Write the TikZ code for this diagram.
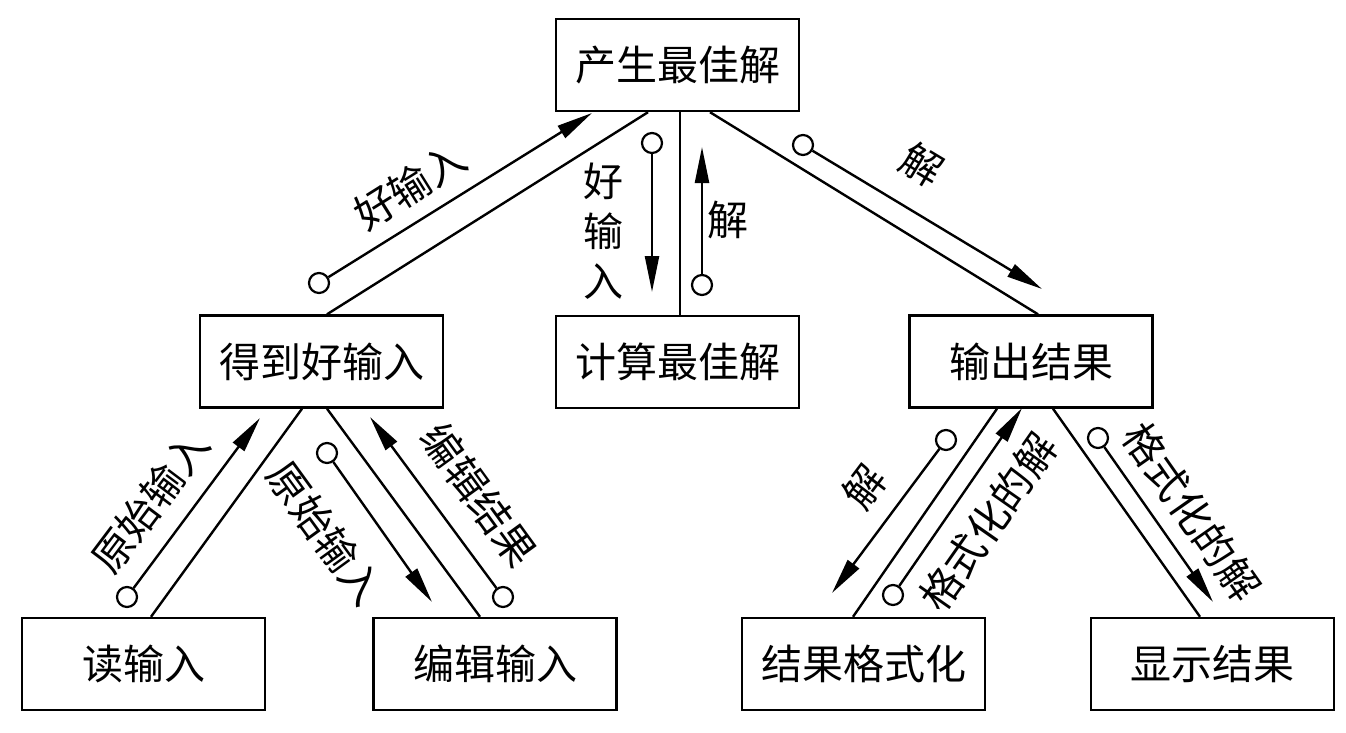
\documentclass[tikz,border=0pt]{standalone}
\usepackage{fontspec}
\newfontfamily\cjk{Noto Sans CJK SC}
\usetikzlibrary{arrows.meta}
\begin{document}
\begin{tikzpicture}[x=1pt,y=-1pt,
  box/.style={draw, line width=2.4pt, minimum width=243pt, minimum height=92pt, inner sep=0pt, font=\cjk\fontsize{41}{41}\selectfont},
  link/.style={line width=2.4pt},
  flow/.style={line width=2.4pt, -{Triangle[length=36pt,width=14pt]}},
  dot/.style={circle, draw, line width=2.2pt, minimum size=20pt, inner sep=0pt},
  lab/.style={font=\cjk\fontsize{41}{41}\selectfont, inner sep=0pt}]
\useasboundingbox (0,0) rectangle (1346,733);
\fill[white] (0,0) rectangle (1346,733);
% boxes
\node[box] (top)  at (677.5,65)  {产生最佳解};
\node[box] (get)  at (321.5,361.5) {得到好输入};
\node[box] (comp) at (677.5,362) {计算最佳解};
\node[box] (out)  at (1031,361.5) {输出结果};
\node[box] (read) at (143.5,664) {读输入};
\node[box] (edit) at (495,664) {编辑输入};
\node[box] (fmt)  at (863.5,664) {结果格式化};
\node[box] (disp) at (1212.5,664) {显示结果};
% structure lines
\draw[link] ([xshift=-29.5pt]top.south) -- ([xshift=5.5pt]get.north);
\draw[link] ([xshift=2.5pt]top.south) -- ([xshift=2.5pt]comp.north);
\draw[link] ([xshift=32.5pt]top.south) -- ([xshift=7pt]out.north);
\draw[link] ([xshift=-19.5pt]get.south) -- ([xshift=7.5pt]read.north);
\draw[link] ([xshift=5.5pt]get.south) -- ([xshift=-15pt]edit.north);
\draw[link] ([xshift=-34pt]out.south) -- ([xshift=-10.5pt]fmt.north);
\draw[link] ([xshift=22pt]out.south) -- ([xshift=-12.5pt]disp.north);
% data flows
\node[dot] (c1) at (319,283) {};  \coordinate (t1) at (592,113);
\node[dot] (c2) at (652,143) {};  \coordinate (t2) at (652,292);
\node[dot] (c3) at (702,285) {};  \coordinate (t3) at (702,147);
\node[dot] (c4) at (803,145) {};  \coordinate (t4) at (1042,289);
\node[dot] (c5) at (127,597) {};  \coordinate (t5) at (260,418);
\node[dot] (c6) at (327,453) {};  \coordinate (t6) at (432,602);
\node[dot] (c7) at (503,597) {};  \coordinate (t7) at (370,417);
\node[dot] (c8) at (946,440) {};  \coordinate (t8) at (832,593);
\node[dot] (c9) at (893,595) {};  \coordinate (t9) at (1022,408);
\node[dot] (c10) at (1098,438) {}; \coordinate (t10) at (1213,602);
\foreach \i in {1,...,10} \draw[flow] (c\i) -- (t\i);
% labels
\node[lab, rotate=32] (l1) at (410,186) {好输入};
\node[lab, align=center, font=\cjk\fontsize{40}{50}\selectfont] (l2) at (603,231) {好\\输\\入};
\node[lab] (l3) at (728,220) {解};
\node[lab, rotate=-31] (l4) at (922,165) {解};
\node[lab, rotate=53] (l5) at (150,502) {原始输入};
\node[lab, rotate=-54] (l6) at (325,533) {原始输入};
\node[lab, rotate=-54] (l7) at (479,495) {编辑结果};
\node[lab, rotate=53] (l8) at (864,487) {解};
\node[lab, rotate=55] (l9) at (988,522) {格式化的解};
\node[lab, rotate=-55] (l10) at (1192,512) {格式化的解};
\end{tikzpicture}
\end{document}
